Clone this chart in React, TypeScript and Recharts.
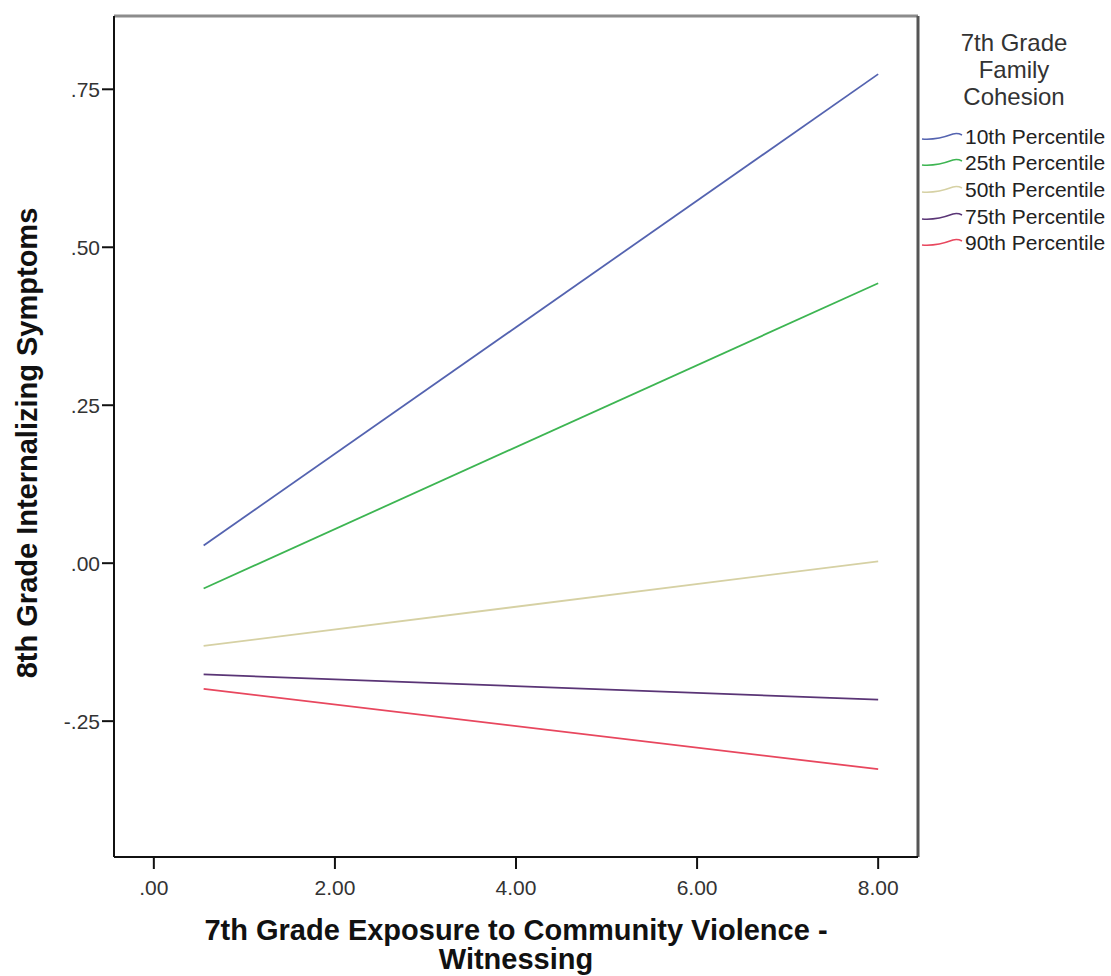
import React from 'react';
import { LineChart, Line, XAxis, YAxis, Legend, Label, ReferenceLine } from 'recharts';

// Predicted values at the low and high end of exposure
const exposure = [0.55, 8.0];
const p10 = [0.028, 0.774];
const p25 = [-0.04, 0.443];
const p50 = [-0.131, 0.003];
const p75 = [-0.176, -0.216];
const p90 = [-0.199, -0.326];

const seriesNames = ['10th Percentile', '25th Percentile', '50th Percentile', '75th Percentile', '90th Percentile'];
const seriesKeys = ['p10', 'p25', 'p50', 'p75', 'p90'];
const seriesColors = ['#5463b0', '#3db552', '#d6d1a4', '#5a3576', '#e8475e'];

const xTicks = [0, 2, 4, 6, 8];
const yTicks = [-0.25, 0, 0.25, 0.5, 0.75];
const xDomain = [-0.44, 8.44];
const yDomain = [-0.465, 0.866];
const legendTitle = ['7th Grade', 'Family', 'Cohesion'];

const data = exposure.map((x, i) => ({
  x,
  p10: p10[i],
  p25: p25[i],
  p50: p50[i],
  p75: p75[i],
  p90: p90[i],
}));

const FONT = '"Liberation Sans", Arial, sans-serif';

// SPSS style: drop the leading zero, two decimals
const fmt = (v: number) => {
  const s = Math.abs(v).toFixed(2);
  const t = s.startsWith('0') ? s.slice(1) : s;
  return v < 0 ? '-' + t : t;
};

const LegendBox = (props: any) => {
  const payload = props.payload || [];
  return (
    <div style={{ fontFamily: FONT, color: '#222', position: 'relative', width: 196, height: 300 }}>
      <div style={{ position: 'absolute', left: 44, width: 110, top: 29, textAlign: 'center', fontSize: 24, lineHeight: '27px', color: '#333' }}>
        {legendTitle.map((t) => (
          <div key={t}>{t}</div>
        ))}
      </div>
      {payload.map((p: any, i: number) => (
        <div
          key={p.value}
          style={{ position: 'absolute', left: 0, top: 123 + i * 26.7, height: 27, display: 'flex', alignItems: 'center', whiteSpace: 'nowrap' }}
        >
          <svg width={50} height={12} style={{ display: 'block' }}>
            <path d="M7,8 C17,9 27,7 38,3 C42,2 45,3 47,4" fill="none" stroke={p.color} strokeWidth={1.5} />
          </svg>
          <span style={{ fontSize: 21 }}>{p.value}</span>
        </div>
      ))}
    </div>
  );
};

export default function App() {
  return (
    <div style={{ position: 'absolute', left: 0, top: 0, width: 1111, height: 976, background: '#fff' }}>
      <LineChart width={1111} height={976} data={data} margin={{ top: 16, right: 193, left: 0, bottom: 0 }}>
        <XAxis
          dataKey="x"
          type="number"
          domain={xDomain}
          ticks={xTicks}
          allowDataOverflow
          tickFormatter={fmt}
          height={119}
          tickSize={12}
          tickMargin={11}
          axisLine={{ stroke: '#111', strokeWidth: 2 }}
          tickLine={{ stroke: '#111', strokeWidth: 2 }}
          tick={{ fontSize: 21, fill: '#333', fontFamily: FONT }}
        >
          <Label
            content={() => (
              <text textAnchor="middle" fontFamily={FONT} fontWeight="bold" fontSize={29} fill="#111">
                <tspan x={516} y={940}>7th Grade Exposure to Community Violence -</tspan>
                <tspan x={516} y={969}>Witnessing</tspan>
              </text>
            )}
          />
        </XAxis>
        <YAxis
          type="number"
          domain={yDomain}
          ticks={yTicks}
          allowDataOverflow
          tickFormatter={fmt}
          width={114}
          tickSize={12}
          tickMargin={2}
          axisLine={{ stroke: '#111', strokeWidth: 2 }}
          tickLine={{ stroke: '#111', strokeWidth: 2 }}
          tick={{ fontSize: 21, fill: '#333', fontFamily: FONT }}
        >
          <Label
            content={() => (
              <text
                x={37}
                y={443}
                transform="rotate(-90, 37, 443)"
                textAnchor="middle"
                fontFamily={FONT}
                fontWeight="bold"
                fontSize={29}
                fill="#111"
              >
                8th Grade Internalizing Symptoms
              </text>
            )}
          />
        </YAxis>
        {/* frame: top and right edges of the plot box */}
        <ReferenceLine y={yDomain[1]} stroke="#8c8c8c" strokeWidth={3} />
        <ReferenceLine x={xDomain[1]} stroke="#555" strokeWidth={3} />
        <Legend
          layout="vertical"
          align="center"
          verticalAlign="middle"
          content={LegendBox}
          wrapperStyle={{ position: 'absolute', left: 915, top: 0, width: 196, height: 300 }}
        />
        {seriesKeys.map((k, i) => (
          <Line
            key={k}
            dataKey={k}
            name={seriesNames[i]}
            stroke={seriesColors[i]}
            strokeWidth={1.8}
            dot={false}
            activeDot={false}
            isAnimationActive={false}
          />
        ))}
      </LineChart>
    </div>
  );
}
